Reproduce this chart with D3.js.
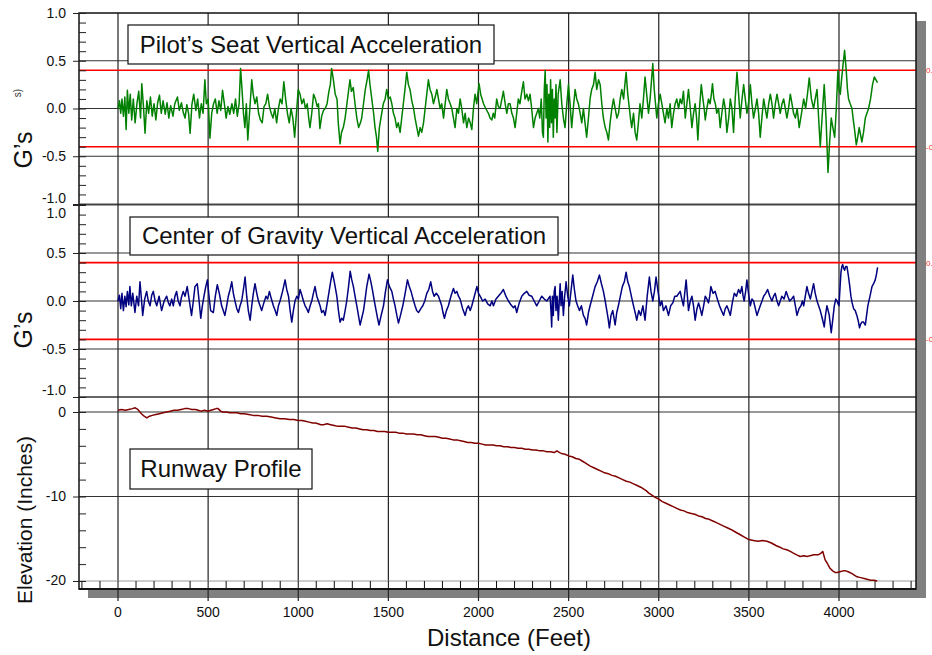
<!DOCTYPE html>
<html>
<head>
<meta charset="utf-8">
<script src="https://cdn.jsdelivr.net/npm/d3@7"></script>
<style>
    body { margin: 0; background: #fff; }
    svg { display: block; font-family: Arial, "Liberation Sans", sans-serif; }
</style>
</head>
<body>
<div id="vis"></div>
<script>
// distance (ft), G's
var pilotSeat = [
    [0, 0.00], [8, 0.08], [15, -0.05], [22, 0.10], [30, -0.08], [38, 0.12], [45, -0.22], [52, 0.19], [60, -0.05], [68, 0.15],
    [76, -0.12], [85, 0.10], [95, -0.15], [105, 0.05], [115, 0.18], [125, -0.10], [132, 0.26], [142, 0.00], [150, -0.26], [160, 0.08],
    [170, -0.05], [180, 0.12], [190, -0.08], [200, 0.05], [210, -0.12], [220, 0.06], [230, 0.14], [240, -0.05], [250, 0.08], [262, -0.06],
    [272, 0.06], [282, -0.10], [292, 0.03], [305, -0.08], [315, 0.05], [330, 0.12], [340, -0.02], [352, 0.06], [362, -0.04], [372, -0.10],
    [382, 0.04], [392, -0.06], [400, -0.26], [410, 0.04], [420, 0.15], [432, -0.02], [442, 0.10], [452, -0.10], [462, 0.05], [472, -0.05],
    [482, 0.30], [490, 0.05], [500, 0.10], [510, -0.31], [520, -0.05], [530, 0.05], [540, 0.10], [550, -0.05], [560, 0.08], [570, -0.02],
    [580, 0.19], [590, 0.05], [600, -0.10], [610, 0.02], [620, -0.06], [632, 0.05], [642, -0.05], [652, 0.10], [662, -0.08], [672, 0.05],
    [680, 0.42], [688, 0.20], [696, -0.05], [704, -0.20], [712, 0.05], [720, -0.33], [728, -0.10], [735, 0.10], [742, 0.30], [750, 0.15],
    [760, 0.05], [770, 0.12], [780, -0.05], [790, -0.12], [800, -0.15], [810, 0.02], [820, 0.05], [830, 0.15], [840, 0.02], [850, -0.05],
    [860, -0.10], [870, 0.00], [880, -0.15], [890, 0.00], [900, 0.10], [910, 0.05], [920, 0.28], [930, 0.10], [940, -0.05], [950, -0.15],
    [960, 0.00], [970, -0.10], [980, -0.30], [990, -0.05], [1000, 0.20], [1010, 0.15], [1020, 0.05], [1030, 0.10], [1040, 0.00], [1050, 0.05],
    [1058, -0.10], [1065, -0.20], [1075, -0.05], [1085, 0.15], [1095, 0.10], [1105, 0.02], [1112, 0.05], [1120, -0.21], [1130, -0.08], [1140, -0.02],
    [1150, 0.00], [1160, 0.05], [1170, 0.18], [1178, 0.25], [1185, 0.42], [1195, 0.30], [1205, 0.15], [1215, 0.10], [1222, -0.15], [1232, -0.37],
    [1240, -0.25], [1250, -0.20], [1260, -0.10], [1270, 0.05], [1280, 0.20], [1287, 0.30], [1295, 0.18], [1305, 0.22], [1315, 0.05], [1325, -0.10],
    [1335, -0.20], [1345, -0.15], [1352, -0.10], [1362, 0.05], [1372, 0.20], [1382, 0.30], [1390, 0.40], [1398, 0.25], [1408, 0.10], [1418, -0.05],
    [1426, -0.20], [1434, -0.30], [1441, -0.45], [1450, -0.20], [1463, -0.05], [1472, 0.05], [1482, 0.10], [1491, 0.20], [1500, 0.10], [1510, 0.12],
    [1519, 0.05], [1528, -0.05], [1537, -0.10], [1546, -0.20], [1555, -0.15], [1565, -0.25], [1574, -0.10], [1583, 0.05], [1592, 0.20], [1602, 0.38],
    [1611, 0.25], [1620, 0.20], [1630, 0.08], [1640, 0.00], [1648, -0.10], [1658, -0.20], [1667, -0.29], [1676, -0.20], [1685, -0.25], [1695, -0.15],
    [1704, 0.00], [1713, 0.15], [1722, 0.30], [1731, 0.20], [1741, 0.15], [1750, 0.05], [1760, 0.12], [1769, 0.20], [1778, 0.10], [1787, 0.00],
    [1796, 0.05], [1806, -0.10], [1815, 0.05], [1824, 0.20], [1833, 0.10], [1843, 0.05], [1852, 0.00], [1861, -0.10], [1870, -0.20], [1880, 0.00],
    [1889, -0.05], [1898, 0.10], [1907, 0.00], [1917, -0.15], [1926, -0.05], [1935, -0.20], [1945, -0.10], [1954, -0.15], [1963, -0.22], [1972, 0.00],
    [1981, 0.15], [1990, 0.05], [2003, 0.26], [2012, 0.15], [2020, 0.10], [2028, 0.05], [2040, 0.00], [2055, -0.05], [2064, -0.10], [2074, -0.12],
    [2082, -0.05], [2090, -0.10], [2101, 0.10], [2110, 0.02], [2120, 0.00], [2130, 0.10], [2138, 0.18], [2148, 0.05], [2157, -0.05], [2166, 0.05],
    [2175, 0.05], [2185, -0.05], [2194, -0.10], [2203, -0.20], [2212, -0.05], [2221, 0.10], [2230, 0.05], [2240, 0.18], [2249, 0.28], [2258, 0.10],
    [2268, 0.15], [2277, 0.08], [2286, 0.15], [2295, 0.00], [2305, -0.20], [2314, -0.10], [2323, -0.05], [2332, 0.00], [2340, -0.10], [2348, 0.10],
    [2355, -0.25], [2360, -0.30], [2365, 0.20], [2370, 0.40], [2375, -0.10], [2380, 0.25], [2385, -0.35], [2390, 0.15], [2395, -0.20], [2400, 0.30],
    [2405, -0.15], [2410, 0.20], [2415, -0.30], [2420, 0.10], [2425, -0.10], [2430, 0.25], [2435, -0.25], [2442, 0.15], [2453, 0.30], [2462, 0.05],
    [2471, -0.10], [2480, -0.20], [2490, 0.05], [2499, 0.25], [2508, 0.05], [2517, -0.20], [2526, 0.00], [2536, 0.20], [2545, 0.10], [2554, 0.05],
    [2564, -0.05], [2573, -0.15], [2582, 0.00], [2591, -0.15], [2600, -0.30], [2610, -0.10], [2619, 0.10], [2628, 0.20], [2638, 0.25], [2647, 0.38],
    [2656, 0.20], [2666, 0.30], [2675, 0.25], [2684, 0.05], [2693, -0.10], [2703, -0.20], [2712, -0.25], [2721, -0.33], [2730, -0.15], [2740, 0.00],
    [2749, 0.10], [2758, 0.00], [2768, -0.10], [2777, -0.05], [2786, 0.10], [2795, 0.20], [2805, 0.10], [2812, 0.25], [2819, 0.38], [2828, 0.15],
    [2837, 0.00], [2843, -0.10], [2850, -0.20], [2860, -0.05], [2869, -0.25], [2878, -0.33], [2887, -0.15], [2896, 0.05], [2906, -0.10], [2915, 0.10],
    [2924, 0.33], [2933, 0.15], [2943, -0.05], [2952, 0.10], [2960, 0.30], [2967, 0.47], [2975, 0.20], [2982, 0.05], [2989, -0.10], [2998, 0.05],
    [3008, 0.15], [3017, 0.05], [3026, -0.05], [3035, -0.15], [3045, 0.00], [3054, -0.10], [3063, 0.05], [3072, -0.20], [3082, -0.05], [3091, 0.05],
    [3100, 0.10], [3110, 0.00], [3119, 0.10], [3128, 0.05], [3137, 0.18], [3147, -0.10], [3156, 0.05], [3165, 0.20], [3175, 0.00], [3184, -0.20],
    [3193, -0.05], [3202, 0.05], [3210, -0.10], [3217, -0.33], [3226, 0.00], [3236, 0.25], [3245, 0.10], [3252, 0.00], [3258, -0.12], [3267, 0.00],
    [3276, 0.10], [3285, 0.05], [3292, 0.15], [3298, 0.26], [3306, 0.10], [3314, 0.05], [3322, -0.05], [3332, 0.00], [3341, -0.20], [3350, -0.05],
    [3360, 0.10], [3369, 0.00], [3378, -0.25], [3388, -0.10], [3397, 0.10], [3406, 0.00], [3415, -0.25], [3424, 0.10], [3434, 0.38], [3443, 0.15],
    [3452, -0.10], [3462, 0.10], [3471, 0.25], [3480, 0.10], [3489, -0.05], [3498, 0.05], [3508, 0.25], [3517, 0.05], [3526, -0.10], [3536, 0.00],
    [3545, 0.10], [3554, -0.05], [3563, -0.30], [3572, -0.10], [3582, 0.10], [3591, 0.00], [3600, -0.10], [3610, 0.05], [3619, 0.15], [3628, 0.05],
    [3637, -0.10], [3647, 0.05], [3656, 0.15], [3665, 0.05], [3674, -0.05], [3684, 0.05], [3693, 0.10], [3702, 0.00], [3711, -0.10], [3720, 0.00],
    [3730, 0.15], [3739, 0.05], [3748, -0.05], [3758, -0.10], [3768, 0.00], [3779, -0.20], [3792, -0.05], [3804, 0.10], [3815, 0.00], [3825, 0.15],
    [3835, 0.32], [3847, 0.10], [3859, 0.00], [3868, 0.10], [3878, 0.20], [3887, -0.10], [3896, -0.40], [3906, -0.10], [3918, 0.25], [3928, -0.10],
    [3939, -0.67], [3948, -0.35], [3957, -0.10], [3966, -0.20], [3976, -0.30], [3985, 0.00], [3994, 0.40], [4000, 0.20], [4007, 0.15], [4014, 0.30],
    [4022, 0.45], [4031, 0.61], [4040, 0.40], [4047, 0.20], [4053, 0.10], [4062, 0.05], [4072, 0.00], [4078, -0.10], [4085, -0.20], [4096, -0.38],
    [4104, -0.30], [4112, -0.20], [4120, -0.28], [4127, -0.35], [4136, -0.25], [4146, -0.10], [4155, -0.05], [4164, 0.00], [4175, 0.10], [4186, 0.25],
    [4196, 0.33], [4205, 0.30], [4214, 0.27]
];

var centerGravity = [
    [0, 0.00], [8, 0.06], [15, -0.08], [22, 0.08], [30, -0.10], [38, 0.05], [45, -0.06], [52, 0.10], [60, -0.04], [66, 0.15],
    [74, -0.05], [82, 0.08], [94, -0.12], [104, 0.05], [114, -0.05], [122, 0.20], [130, 0.02], [137, -0.15], [148, 0.02], [159, 0.10],
    [168, 0.00], [178, -0.05], [187, 0.06], [196, 0.10], [206, 0.00], [215, -0.05], [228, 0.05], [242, -0.10], [256, 0.00], [270, 0.05],
    [280, -0.02], [288, -0.05], [298, 0.02], [307, -0.05], [316, 0.05], [325, 0.10], [334, 0.00], [344, -0.05], [352, 0.04], [362, 0.10],
    [372, 0.05], [384, 0.15], [396, 0.00], [408, -0.15], [418, 0.00], [427, 0.15], [440, 0.18], [450, 0.00], [459, -0.18], [468, -0.05],
    [477, 0.05], [487, 0.15], [496, 0.22], [505, 0.05], [514, -0.10], [529, -0.12], [540, 0.05], [551, 0.17], [562, 0.08], [575, -0.05],
    [584, -0.10], [593, -0.15], [603, -0.05], [612, 0.05], [622, 0.12], [631, 0.20], [640, 0.08], [649, 0.00], [659, -0.08], [668, -0.12],
    [677, -0.05], [686, 0.00], [696, 0.12], [705, 0.25], [714, 0.05], [723, -0.10], [733, -0.20], [742, -0.05], [751, 0.08], [760, 0.18],
    [770, 0.08], [779, 0.00], [788, -0.05], [797, -0.10], [809, -0.02], [821, 0.05], [830, 0.02], [840, 0.10], [851, 0.02], [862, -0.05],
    [872, -0.10], [881, -0.15], [890, -0.05], [899, 0.00], [913, 0.10], [927, 0.22], [936, 0.12], [946, 0.05], [955, -0.10], [964, -0.22],
    [973, -0.10], [982, 0.00], [992, 0.05], [1001, 0.02], [1010, 0.12], [1020, 0.06], [1029, 0.00], [1038, -0.05], [1047, -0.08], [1056, -0.12],
    [1066, -0.05], [1075, 0.00], [1084, 0.08], [1093, 0.15], [1103, 0.05], [1112, 0.00], [1121, -0.05], [1130, -0.12], [1140, -0.10], [1149, -0.15],
    [1158, -0.05], [1167, 0.05], [1178, 0.18], [1189, 0.30], [1200, 0.20], [1214, 0.05], [1223, -0.10], [1232, -0.22], [1241, -0.18], [1250, -0.20],
    [1260, -0.10], [1269, 0.00], [1279, 0.15], [1288, 0.31], [1297, 0.22], [1306, 0.15], [1315, 0.05], [1325, -0.05], [1334, -0.15], [1343, -0.25],
    [1352, -0.18], [1362, -0.10], [1371, 0.02], [1380, 0.15], [1393, 0.28], [1403, 0.20], [1413, 0.10], [1422, 0.00], [1432, -0.10], [1440, -0.18],
    [1448, -0.25], [1460, -0.15], [1473, -0.05], [1484, 0.10], [1495, 0.22], [1506, 0.15], [1519, 0.10], [1528, 0.02], [1537, -0.05], [1547, -0.15],
    [1556, -0.23], [1567, -0.15], [1580, -0.05], [1593, 0.08], [1606, 0.22], [1616, 0.15], [1626, 0.10], [1637, 0.02], [1648, -0.05], [1657, -0.10],
    [1667, -0.12], [1680, -0.08], [1691, -0.05], [1702, 0.00], [1713, 0.08], [1724, 0.12], [1735, 0.20], [1745, 0.10], [1754, 0.05], [1766, 0.08],
    [1778, 0.05], [1787, 0.00], [1796, -0.05], [1803, -0.12], [1811, -0.18], [1822, -0.10], [1833, -0.05], [1847, 0.05], [1861, 0.13], [1870, 0.08],
    [1880, 0.10], [1889, 0.05], [1898, 0.02], [1912, -0.08], [1926, -0.15], [1935, -0.08], [1944, -0.05], [1954, -0.10], [1963, -0.05], [1977, 0.05],
    [1991, 0.15], [2000, 0.08], [2009, 0.05], [2023, 0.00], [2037, 0.02], [2051, -0.03], [2065, -0.05], [2074, 0.00], [2083, -0.05], [2097, 0.02],
    [2110, 0.05], [2124, 0.08], [2138, 0.12], [2152, 0.05], [2166, 0.00], [2180, -0.04], [2194, -0.07], [2203, -0.05], [2212, -0.12], [2226, -0.02],
    [2240, 0.05], [2254, 0.08], [2268, 0.10], [2281, 0.06], [2295, 0.05], [2309, 0.00], [2323, -0.05], [2337, 0.00], [2351, 0.05], [2365, 0.02],
    [2379, 0.00], [2397, 0.05], [2402, -0.10], [2406, -0.27], [2410, 0.05], [2415, -0.15], [2420, 0.10], [2425, 0.15], [2430, -0.10], [2436, 0.05],
    [2443, -0.20], [2448, 0.00], [2453, 0.18], [2458, -0.05], [2464, 0.10], [2471, -0.15], [2478, 0.05], [2486, 0.20], [2495, 0.05], [2504, -0.05],
    [2513, 0.10], [2523, 0.27], [2532, 0.12], [2541, 0.00], [2550, -0.05], [2560, -0.10], [2571, -0.05], [2582, -0.15], [2591, -0.18], [2600, -0.25],
    [2610, -0.12], [2619, -0.05], [2633, 0.05], [2647, 0.15], [2659, 0.20], [2671, 0.27], [2682, 0.18], [2693, 0.10], [2703, 0.00], [2712, -0.10],
    [2719, -0.18], [2726, -0.28], [2735, -0.15], [2745, -0.10], [2752, -0.18], [2758, -0.25], [2767, -0.12], [2776, -0.05], [2787, 0.05], [2798, 0.15],
    [2809, 0.20], [2819, 0.30], [2828, 0.20], [2837, 0.15], [2848, 0.05], [2860, -0.05], [2869, -0.12], [2878, -0.20], [2889, -0.10], [2900, -0.15],
    [2912, -0.05], [2924, -0.20], [2936, 0.05], [2948, 0.25], [2957, 0.10], [2967, 0.00], [2976, 0.10], [2985, 0.25], [2996, 0.10], [3008, -0.05],
    [3017, 0.00], [3026, -0.10], [3040, -0.05], [3054, -0.15], [3066, -0.05], [3078, -0.02], [3089, 0.05], [3100, 0.05], [3119, 0.10], [3128, 0.02],
    [3137, -0.05], [3144, 0.08], [3152, 0.22], [3159, 0.05], [3165, -0.10], [3175, 0.00], [3184, 0.05], [3193, -0.05], [3202, -0.20], [3212, -0.08],
    [3221, -0.02], [3230, -0.08], [3239, -0.15], [3249, -0.05], [3258, 0.05], [3267, 0.02], [3276, -0.02], [3283, 0.05], [3289, 0.15], [3301, 0.08],
    [3313, 0.10], [3325, 0.02], [3337, -0.05], [3348, -0.10], [3360, -0.15], [3369, -0.08], [3378, -0.05], [3388, -0.10], [3397, -0.15], [3408, -0.02],
    [3419, 0.08], [3431, 0.05], [3443, 0.12], [3452, 0.08], [3461, 0.15], [3468, 0.05], [3474, 0.00], [3482, 0.10], [3489, 0.22], [3498, 0.08],
    [3508, -0.05], [3517, 0.02], [3526, 0.00], [3536, -0.08], [3545, -0.15], [3554, -0.10], [3563, -0.05], [3573, 0.00], [3582, 0.05], [3593, 0.08],
    [3604, 0.12], [3616, 0.05], [3628, 0.00], [3637, 0.05], [3646, 0.08], [3656, 0.00], [3665, -0.05], [3674, 0.00], [3683, 0.05], [3695, 0.02],
    [3707, 0.10], [3716, 0.05], [3726, 0.00], [3737, 0.02], [3748, 0.05], [3758, -0.05], [3767, -0.15], [3778, -0.08], [3789, -0.05], [3797, 0.00],
    [3804, -0.05], [3813, 0.05], [3822, 0.15], [3831, 0.08], [3841, 0.02], [3850, 0.10], [3859, 0.18], [3868, 0.08], [3878, 0.00], [3887, -0.05],
    [3896, -0.10], [3907, -0.18], [3918, -0.27], [3925, -0.15], [3933, -0.05], [3940, -0.10], [3946, -0.15], [3952, -0.25], [3957, -0.33], [3965, -0.20],
    [3974, -0.05], [3982, 0.02], [3989, 0.00], [3995, -0.03], [4000, -0.05], [4006, 0.15], [4011, 0.30], [4016, 0.36], [4020, 0.38], [4026, 0.34],
    [4031, 0.32], [4037, 0.36], [4044, 0.36], [4049, 0.30], [4053, 0.25], [4060, 0.15], [4066, 0.05], [4073, -0.02], [4081, -0.08], [4090, -0.10],
    [4099, -0.15], [4106, -0.20], [4114, -0.28], [4120, -0.24], [4127, -0.22], [4136, -0.22], [4146, -0.25], [4153, -0.15], [4160, -0.05], [4172, 0.05],
    [4183, 0.15], [4192, 0.18], [4201, 0.22], [4208, 0.28], [4214, 0.35]
];

// distance (ft), elevation (inches)
var runwayProfile = [
    [0, 0.2], [20, 0.3], [40, 0.2], [60, 0.3], [80, 0.4], [95, 0.5], [110, 0.3], [130, -0.2], [145, -0.5], [160, -0.7],
    [175, -0.5], [190, -0.4], [210, -0.3], [230, -0.2], [250, -0.1], [270, 0.0], [290, 0.1], [310, 0.2], [330, 0.2], [350, 0.3],
    [370, 0.4], [390, 0.4], [410, 0.3], [430, 0.3], [445, 0.2], [460, 0.1], [480, 0.2], [500, 0.1], [515, 0.2], [530, 0.3],
    [545, 0.4], [555, 0.4], [570, 0.1], [580, 0.0], [600, 0.0], [620, -0.1], [640, -0.1], [660, -0.1], [680, -0.2], [700, -0.2],
    [725, -0.3], [750, -0.4], [775, -0.4], [800, -0.5], [825, -0.5], [850, -0.6], [875, -0.7], [900, -0.8], [925, -0.8], [950, -0.9],
    [975, -0.9], [1000, -1.0], [1020, -1.0], [1040, -1.1], [1060, -1.2], [1080, -1.3], [1095, -1.3], [1110, -1.4], [1125, -1.5], [1140, -1.5],
    [1160, -1.4], [1180, -1.5], [1200, -1.6], [1220, -1.7], [1240, -1.7], [1260, -1.7], [1280, -1.8], [1300, -1.9], [1320, -1.9], [1340, -2.0],
    [1360, -2.1], [1380, -2.1], [1400, -2.2], [1420, -2.2], [1440, -2.3], [1460, -2.3], [1480, -2.3], [1500, -2.4], [1520, -2.4], [1540, -2.4],
    [1560, -2.5], [1580, -2.5], [1600, -2.6], [1620, -2.6], [1640, -2.6], [1660, -2.7], [1680, -2.7], [1700, -2.8], [1720, -2.9], [1740, -2.9],
    [1760, -2.9], [1780, -3.0], [1800, -3.1], [1820, -3.1], [1840, -3.2], [1860, -3.3], [1880, -3.3], [1900, -3.4], [1920, -3.5], [1940, -3.6],
    [1960, -3.6], [1980, -3.7], [2000, -3.7], [2020, -3.8], [2040, -3.9], [2060, -3.9], [2080, -3.9], [2100, -4.0], [2120, -4.0], [2140, -4.1],
    [2160, -4.1], [2180, -4.2], [2200, -4.2], [2220, -4.3], [2240, -4.3], [2260, -4.4], [2280, -4.4], [2300, -4.5], [2320, -4.5], [2340, -4.6],
    [2360, -4.6], [2380, -4.7], [2400, -4.7], [2420, -4.8], [2435, -4.6], [2450, -4.8], [2460, -4.9], [2480, -5.0], [2500, -5.2], [2520, -5.3],
    [2540, -5.5], [2560, -5.6], [2575, -5.8], [2590, -6.0], [2605, -6.2], [2620, -6.4], [2640, -6.6], [2660, -6.8], [2680, -7.0], [2700, -7.2],
    [2720, -7.3], [2740, -7.5], [2760, -7.6], [2780, -7.8], [2800, -8.0], [2820, -8.2], [2840, -8.3], [2860, -8.5], [2880, -8.7], [2900, -8.9],
    [2915, -9.1], [2930, -9.3], [2945, -9.6], [2960, -9.8], [2980, -10.1], [3000, -10.3], [3020, -10.6], [3040, -10.8], [3060, -11.0], [3080, -11.2],
    [3100, -11.4], [3120, -11.6], [3140, -11.7], [3160, -11.9], [3180, -12.0], [3200, -12.1], [3220, -12.3], [3240, -12.4], [3260, -12.6], [3280, -12.7],
    [3300, -12.9], [3320, -13.1], [3340, -13.3], [3360, -13.5], [3380, -13.7], [3400, -13.9], [3425, -14.2], [3450, -14.5], [3475, -14.8], [3500, -15.1],
    [3525, -15.2], [3550, -15.3], [3575, -15.2], [3600, -15.3], [3625, -15.5], [3650, -15.8], [3672, -16.0], [3690, -16.2], [3710, -16.3], [3730, -16.5],
    [3747, -16.7], [3765, -16.9], [3785, -17.1], [3805, -17.0], [3823, -17.1], [3840, -17.0], [3860, -16.9], [3885, -16.9], [3900, -16.7], [3910, -16.5],
    [3923, -17.5], [3935, -17.9], [3950, -18.5], [3965, -18.8], [3980, -19.0], [3990, -19.0], [4005, -18.9], [4023, -18.8], [4037, -18.8], [4051, -18.9],
    [4070, -19.1], [4085, -19.3], [4100, -19.5], [4120, -19.6], [4140, -19.7], [4156, -19.8], [4175, -19.9], [4195, -19.9], [4212, -20.0]
];

var gTicks = [-1.0, -0.5, 0.0, 0.5, 1.0];
var elevTicks = [-20, -10, 0];
var distTicks = [0, 500, 1000, 1500, 2000, 2500, 3000, 3500, 4000];
var limitG = [0.4, -0.4];
var titles = ["Pilot\u2019s Seat Vertical Acceleration", "Center of Gravity Vertical Acceleration", "Runway Profile"];

var width = 932;
var height = 655;
var frameLeft = 79;
var frameRight = 916;
var frameTop = 13;
var stripTop = 581;
var frameBottom = 589;

var svgElement = d3.select('#vis').append('svg')
    .attr('width', width)
    .attr('height', height);

var x = d3.scaleLinear().domain([0, 4000]).range([118, 839]);
var yPilot = d3.scaleLinear().domain([-1, 1]).range([204, 13]);
var yCg = d3.scaleLinear().domain([-1, 1]).range([397, 205]);
var yRun = d3.scaleLinear().domain([-20, 0]).range([581, 412]);

// drop shadow and frame
svgElement.append('rect')
    .attr('x', frameLeft + 9).attr('y', frameTop + 8)
    .attr('width', frameRight - frameLeft + 1).attr('height', frameBottom - frameTop + 1)
    .attr('fill', '#808080');
svgElement.append('rect')
    .attr('x', frameLeft).attr('y', frameTop)
    .attr('width', frameRight - frameLeft).attr('height', frameBottom - frameTop)
    .attr('fill', '#fff');

function hLine(yv, color, w) {
    svgElement.append('line')
        .attr('x1', frameLeft).attr('x2', frameRight)
        .attr('y1', yv).attr('y2', yv)
        .attr('stroke', color).attr('stroke-width', w);
}

// horizontal grid
gTicks.filter(function (d) { return Math.abs(d) == 0.5 || d == 0; }).forEach(function (d) {
    hLine(yPilot(d), '#333', 1.2);
    hLine(yCg(d), '#333', 1.2);
});
hLine(yRun(0), '#333', 1.2);
hLine(yRun(-10), '#333', 1.2);
hLine(204.5, '#444', 2);
hLine(397, '#333', 1.5);

// vertical grid
distTicks.forEach(function (d) {
    svgElement.append('line')
        .attr('x1', x(d)).attr('x2', x(d))
        .attr('y1', frameTop).attr('y2', 601)
        .attr('stroke', '#222').attr('stroke-width', 1.2);
});

// distance strip with 100 ft ticks
svgElement.append('rect')
    .attr('x', frameLeft).attr('y', stripTop)
    .attr('width', frameRight - frameLeft).attr('height', frameBottom - stripTop)
    .attr('fill', '#fff').attr('stroke', 'none');
hLine(stripTop, '#999', 1);
var stripTicks = d3.range(-200, 4500, 100).filter(function (d) { return x(d) > frameLeft && x(d) < frameRight; });
stripTicks.forEach(function (d) {
    svgElement.append('line')
        .attr('x1', x(d)).attr('x2', x(d))
        .attr('y1', stripTop).attr('y2', frameBottom)
        .attr('stroke', '#111').attr('stroke-width', 1);
});
hLine(frameBottom, '#222', 2);

// limit lines
limitG.forEach(function (d) {
    hLine(yPilot(d), '#ff0000', 1.6);
    hLine(yCg(d), '#ff0000', 1.6);
});

// frame outline
svgElement.append('rect')
    .attr('x', frameLeft).attr('y', frameTop)
    .attr('width', frameRight - frameLeft).attr('height', frameBottom - frameTop)
    .attr('fill', 'none').attr('stroke', '#111').attr('stroke-width', 1.5);

// left axes
function leftAxis(scale, major, minor, fmt, shifts) {
    var gMinor = svgElement.append('g')
        .attr('transform', 'translate(' + frameLeft + ',0)')
        .call(d3.axisRight(scale).tickValues(minor).tickSize(7).tickFormat(''));
    gMinor.select('.domain').remove();
    gMinor.selectAll('line').attr('stroke', '#222');

    var gMajor = svgElement.append('g')
        .attr('transform', 'translate(' + frameLeft + ',0)')
        .call(d3.axisLeft(scale).tickValues(major).tickSize(6).tickPadding(7).tickFormat(fmt));
    gMajor.select('.domain').remove();
    gMajor.selectAll('line').attr('stroke', '#222');
    gMajor.selectAll('text')
        .attr('font-size', 14)
        .attr('font-family', 'Arial, "Liberation Sans", sans-serif')
        .attr('fill', '#111')
        .attr('transform', function (d) { return 'translate(0,' + (shifts[d] || 0) + ')'; });
}

var fmtG = function (d) { return d.toFixed(1); };
var minorG = d3.range(-10, 11).map(function (i) { return i / 10; });
leftAxis(yPilot, gTicks, minorG, fmtG, { '-1': -6 });
leftAxis(yCg, gTicks, minorG, fmtG, { '1': 8, '-1': -7 });
leftAxis(yRun, elevTicks, d3.range(-20, 1, 2), function (d) { return String(d); }, { '-20': -1 });

// bottom labels
svgElement.append('g').selectAll('text')
    .data(distTicks).enter().append('text')
    .attr('x', function (d) { return x(d); })
    .attr('y', 617)
    .attr('text-anchor', 'middle')
    .attr('font-size', 14)
    .attr('fill', '#111')
    .text(function (d) { return d; });

svgElement.append('text')
    .attr('x', 509).attr('y', 646)
    .attr('text-anchor', 'middle')
    .attr('font-size', 24)
    .attr('fill', '#111')
    .text('Distance (Feet)');

function yTitle(cy, size, label) {
    svgElement.append('text')
        .attr('transform', 'translate(32,' + cy + ') rotate(-90)')
        .attr('text-anchor', 'middle')
        .attr('font-size', size)
        .attr('fill', '#111')
        .text(label);
}
yTitle(150, 25, 'G\u2019s');
yTitle(330, 25, 'G\u2019s');
yTitle(520, 21, 'Elevation (Inches)');

svgElement.append('text')
    .attr('transform', 'translate(21,93) rotate(-90)')
    .attr('text-anchor', 'middle')
    .attr('font-size', 10)
    .attr('fill', '#333')
    .text('s)');

// right-hand limit labels (clipped by the picture edge, as in the original)
limitG.forEach(function (d) {
    [yPilot, yCg].forEach(function (s) {
        svgElement.append('text')
            .attr('x', 926).attr('y', s(d) + 3)
            .attr('font-size', 8)
            .attr('fill', '#ff3030')
            .text(d.toFixed(1));
    });
});

// traces
function trace(data, yScale, color, w) {
    svgElement.append('path')
        .datum(data)
        .attr('d', d3.line().x(function (d) { return x(d[0]); }).y(function (d) { return yScale(d[1]); }))
        .attr('fill', 'none')
        .attr('stroke', color)
        .attr('stroke-width', w)
        .attr('stroke-linejoin', 'round');
}
trace(pilotSeat, yPilot, '#008000', 1.5);
trace(centerGravity, yCg, '#000080', 1.5);
trace(runwayProfile, yRun, '#800000', 1.5);

// title boxes
var boxes = [
    { x: 128, y: 25, w: 366, h: 39 },
    { x: 130, y: 217, w: 428, h: 38 },
    { x: 130, y: 449, w: 182, h: 40 }
];
boxes.forEach(function (b, i) {
    svgElement.append('rect')
        .attr('x', b.x).attr('y', b.y)
        .attr('width', b.w).attr('height', b.h)
        .attr('fill', '#fff').attr('stroke', '#111').attr('stroke-width', 1.2);
    svgElement.append('text')
        .attr('x', b.x + b.w / 2).attr('y', b.y + b.h / 2 + 8)
        .attr('text-anchor', 'middle')
        .attr('font-size', 24)
        .attr('fill', '#111')
        .text(titles[i]);
});
</script>
</body>
</html>
